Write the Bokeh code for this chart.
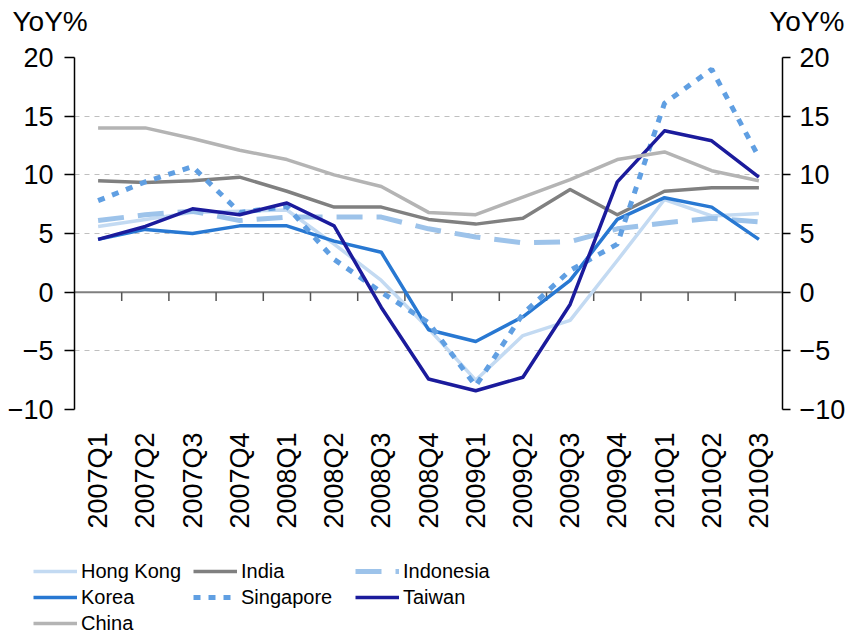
import math
import numpy as np
from bokeh.plotting import figure
from bokeh.layouts import column
from bokeh.models import (Range1d, LinearAxis, FixedTicker, Span, Legend,
                          LegendItem, Label)
from bokeh.embed import file_html
from bokeh.resources import INLINE

# ---------------- data ----------------
quarters = ["2007Q1", "2007Q2", "2007Q3", "2007Q4", "2008Q1", "2008Q2",
            "2008Q3", "2008Q4", "2009Q1", "2009Q2", "2009Q3", "2009Q4",
            "2010Q1", "2010Q2", "2010Q3"]
y_ticks = [-10, -5, 0, 5, 10, 15, 20]
unit_label = "YoY%"

hong_kong = [5.6, 6.2, 6.8, 6.9, 7.0, 4.1, 1.0, -3.1, -7.5, -3.7, -2.4, 2.7, 7.9, 6.5, 6.7]
india = [9.5, 9.35, 9.5, 9.8, 8.6, 7.25, 7.25, 6.2, 5.8, 6.3, 8.75, 6.6, 8.6, 8.9, 8.9]
indonesia = [6.1, 6.6, 6.9, 6.1, 6.4, 6.4, 6.4, 5.4, 4.7, 4.2, 4.3, 5.4, 5.9, 6.3, 6.0]
korea = [4.5, 5.35, 5.0, 5.65, 5.65, 4.35, 3.4, -3.2, -4.2, -2.1, 1.0, 6.2, 8.05, 7.25, 4.5]
singapore = [7.8, 9.4, 10.7, 6.8, 7.3, 2.8, 0.0, -2.6, -8.0, -1.85, 1.85, 4.1, 16.1, 19.0, 11.5]
taiwan = [4.5, 5.6, 7.1, 6.6, 7.6, 5.65, -1.3, -7.4, -8.4, -7.25, -1.05, 9.4, 13.75, 12.9, 9.8]
china = [14.0, 14.0, 13.1, 12.1, 11.3, 10.0, 9.0, 6.8, 6.6, 8.1, 9.6, 11.3, 11.95, 10.35, 9.5]

FONT = "Liberation Sans"

styles = {
    "Hong Kong": dict(line_color="#C3DAF2", line_width=3.5, line_join="round"),
    "India": dict(line_color="#808080", line_width=3.5, line_join="round"),
    "Indonesia": dict(line_color="#9DC3EA", line_width=5, line_dash="26 14"),
    "Korea": dict(line_color="#2878D2", line_width=3.5, line_join="round"),
    "Singapore": dict(line_color="#609FE2", line_width=5, line_dash="7 8"),
    "Taiwan": dict(line_color="#1B1B9C", line_width=3.5, line_join="round"),
    "China": dict(line_color="#B4B4B4", line_width=3.5, line_join="round"),
}
series = {"Hong Kong": hong_kong, "India": india, "Indonesia": indonesia,
          "Korea": korea, "Singapore": singapore, "Taiwan": taiwan,
          "China": china}

W = 848
HEAD_H = 36
MAIN_H = 510
LEG_H = 636 - HEAD_H - MAIN_H


def bare_figure(height):
    f = figure(width=W, height=height, output_backend="svg", toolbar_location=None,
               x_axis_location=None, y_axis_location=None, min_border=0,
               x_range=Range1d(0, 1), y_range=Range1d(0, 1), frame_align=False)
    f.outline_line_color = None
    f.grid.visible = False
    return f


# ---------------- header (unit labels) ----------------
head = bare_figure(HEAD_H)
head.add_layout(Label(x=12, y=15, x_units="screen", y_units="screen", text=unit_label,
                      text_font=FONT, text_font_size="28px", text_color="black",
                      text_baseline="middle"))
head.add_layout(Label(x=W - 4, y=15, x_units="screen", y_units="screen", text=unit_label,
                      text_font=FONT, text_font_size="28px", text_color="black",
                      text_baseline="middle", text_align="right"))

# ---------------- main chart ----------------
n = len(quarters)
x = np.arange(n) + 0.5

p = figure(width=W, height=MAIN_H, output_backend="svg", toolbar_location=None,
           x_range=Range1d(0, n), y_range=Range1d(-10, 20), frame_align=False,
           min_border_left=74, min_border_right=63, min_border_top=21,
           min_border_bottom=137)
p.outline_line_color = None
p.background_fill_color = "white"
p.border_fill_color = "white"

p.xgrid.visible = False
p.ygrid.grid_line_color = "#BFBFBF"
p.ygrid.grid_line_dash = "5 5"
p.ygrid.grid_line_width = 1

right_axis = LinearAxis()
p.add_layout(right_axis, "right")
for ax in [p.yaxis[0], right_axis]:
    ax.ticker = FixedTicker(ticks=y_ticks)
    ax.axis_line_color = "black"
    ax.axis_line_width = 1.5
    ax.major_tick_line_color = "black"
    ax.major_tick_line_width = 1.5
    ax.major_tick_out = 10
    ax.major_tick_in = 0
    ax.minor_tick_line_color = None
    ax.major_label_text_font = FONT
    ax.major_label_text_font_size = "27px"
    ax.major_label_text_color = "black"
    ax.major_label_standoff = 11
right_axis.major_tick_out = 8
right_axis.major_label_standoff = 9
p.ygrid.ticker = FixedTicker(ticks=y_ticks)

xa = p.xaxis[0]
xa.ticker = FixedTicker(ticks=list(x))
xa.major_label_overrides = {float(xi): q for xi, q in zip(x, quarters)}
xa.axis_line_color = None
xa.major_tick_line_color = None
xa.minor_tick_line_color = None
xa.major_tick_out = 0
xa.major_tick_in = 0
xa.major_label_standoff = 23
xa.major_label_orientation = math.pi / 2
xa.major_label_text_font = FONT
xa.major_label_text_font_size = "27px"
xa.major_label_text_color = "black"

p.add_layout(Span(location=0, dimension="width", line_color="#7F7F7F",
                  line_width=2, level="underlay"))
bounds = np.arange(1, n)
p.segment(x0=bounds, y0=np.zeros(len(bounds)), x1=bounds,
          y1=np.full(len(bounds), -0.75), line_color="#555555", line_width=1.5)

for name, vals in series.items():
    p.line(x, vals, **styles[name])

# ---------------- legend strip ----------------
leg = bare_figure(LEG_H)
# single-point lines draw nothing; they only carry each series' style
swatch = {name: leg.line(x=[0], y=[0], **styles[name]) for name in series}


def add_legend(names, vx, vy):
    lg = Legend(items=[LegendItem(label=nm, renderers=[swatch[nm]]) for nm in names],
                location=(vx, vy), orientation="vertical",
                glyph_width=44, glyph_height=26, label_height=26,
                label_standoff=4, spacing=0, padding=0, margin=0,
                border_line_color=None, background_fill_alpha=0,
                label_text_font=FONT, label_text_font_size="20px",
                label_text_color="black")
    leg.add_layout(lg, "center")


add_legend(["Hong Kong", "Korea", "China"], 33, 0)
add_legend(["India", "Singapore"], 193, 26)
add_legend(["Indonesia", "Taiwan"], 355, 26)

layout = column(head, p, leg, spacing=0)
open("out.html", "w").write(file_html(layout, INLINE))
